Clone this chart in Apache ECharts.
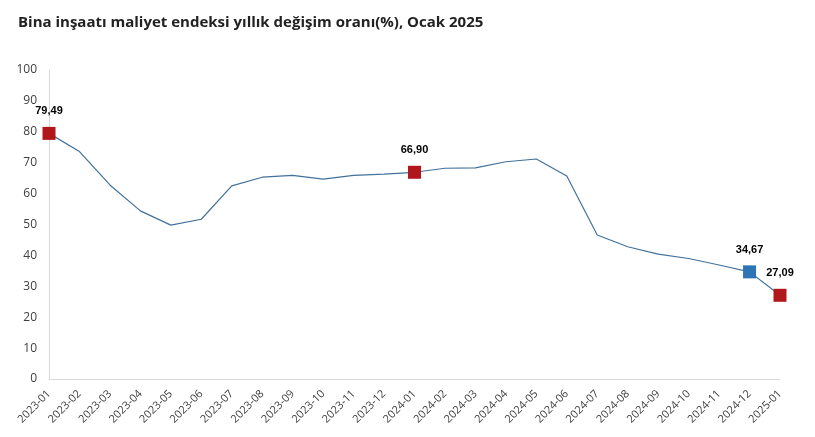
<!doctype html>
<html>
  <head>
    <meta charset="utf-8">
    <title>Bina inşaatı maliyet endeksi</title>
    <script src="https://cdn.jsdelivr.net/npm/echarts@6/dist/echarts.min.js"></script>
    <style>
      html, body { margin: 0; padding: 0; background: #ffffff; }
      #chart { width: 815px; height: 437px; }
    </style>
  </head>
  <body>
    <div id="chart"></div>
    <script type="text/javascript">
      // aylar
      var months = [
        '2023-01', '2023-02', '2023-03', '2023-04', '2023-05', '2023-06', '2023-07',
        '2023-08', '2023-09', '2023-10', '2023-11', '2023-12', '2024-01', '2024-02',
        '2024-03', '2024-04', '2024-05', '2024-06', '2024-07', '2024-08', '2024-09',
        '2024-10', '2024-11', '2024-12', '2025-01'
      ];
      // yıllık değişim oranı (%)
      var values = [
        79.49, 73.6, 62.8, 54.4, 49.8, 51.7, 62.5,
        65.3, 65.9, 64.7, 65.9, 66.3, 66.90, 68.2,
        68.3, 70.3, 71.2, 65.7, 46.6, 42.8, 40.4,
        39.0, 36.9, 34.67, 27.09
      ];
      // etiketli noktalar: indeks ve renk
      var redPoints = [0, 12, 24];
      var bluePoints = [23];
      var yTicks = [0, 10, 20, 30, 40, 50, 60, 70, 80, 90, 100];

      var lineColor = '#41719c';
      var red = '#b0161c';
      var blue = '#2e75b6';

      var seriesData = values.map(function (v, i) {
        var item = { value: v };
        var color = null;
        if (redPoints.indexOf(i) >= 0) color = red;
        if (bluePoints.indexOf(i) >= 0) color = blue;
        if (color) {
          item.symbol = 'rect';
          item.symbolSize = 13;
          item.itemStyle = { color: color };
          item.label = {
            show: true,
            position: 'top',
            distance: 10,
            formatter: function (p) { return p.value.toFixed(2).replace('.', ','); },
            color: '#000000',
            fontWeight: 'bold',
            fontSize: 11,
            fontFamily: 'Liberation Sans'
          };
        } else {
          item.symbol = 'none';
        }
        return item;
      });

      var myChart = echarts.init(document.getElementById('chart'));
      myChart.setOption({
        animation: false,
        backgroundColor: '#ffffff',
        title: {
          text: 'Bina inşaatı maliyet endeksi yıllık değişim oranı(%), Ocak 2025',
          left: 13,
          top: 10,
          textStyle: {
            fontFamily: 'Open Sans',
            fontSize: 15,
            fontWeight: 'bold',
            color: '#222222'
          }
        },
        grid: { left: 49, right: 35, top: 70, bottom: 58 },
        xAxis: {
          type: 'category',
          data: months,
          boundaryGap: false,
          axisLine: { lineStyle: { color: '#d9d9d9' } },
          axisTick: { show: false },
          axisLabel: {
            rotate: 45,
            interval: 0,
            margin: 13,
            fontSize: 11,
            fontFamily: 'Open Sans',
            color: '#404040'
          }
        },
        yAxis: {
          type: 'value',
          min: yTicks[0],
          max: yTicks[yTicks.length - 1],
          interval: 10,
          axisLine: { show: true, lineStyle: { color: '#d9d9d9' } },
          axisTick: { show: false },
          splitLine: { show: false },
          axisLabel: {
            margin: 12,
            fontSize: 12,
            fontFamily: 'Open Sans',
            color: '#404040'
          }
        },
        series: [{
          type: 'line',
          data: seriesData,
          lineStyle: { color: lineColor, width: 1.2 },
          itemStyle: { color: lineColor },
          symbol: 'none'
        }]
      });
    </script>
  </body>
</html>
